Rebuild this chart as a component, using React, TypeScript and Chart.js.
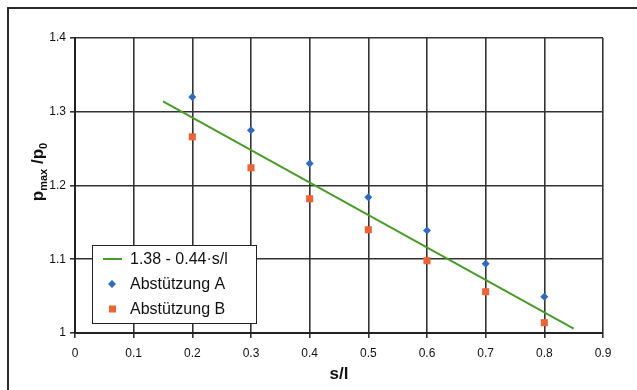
import React, { useEffect, useRef } from "react";
import { Chart, registerables } from "chart.js";

Chart.register(...registerables);

const sValues = [0.2, 0.3, 0.4, 0.5, 0.6, 0.7, 0.8];
const abstA = [1.32, 1.275, 1.23, 1.184, 1.139, 1.094, 1.049];
const abstB = [1.266, 1.224, 1.182, 1.14, 1.098, 1.056, 1.014];
const fitX = [0.15, 0.85];
const fitY = [1.314, 1.006];
const seriesLabels = ["1.38 - 0.44\u00b7s/l", "Abst\u00fctzung A", "Abst\u00fctzung B"];
const xTitle = "s/l";

const FONT = "'Liberation Sans', Arial, sans-serif";

const decorPlugin = {
  id: "decor",
  beforeDraw(chart: any) {
    const ctx = chart.ctx;
    ctx.save();
    ctx.fillStyle = "#ffffff";
    ctx.fillRect(0, 0, chart.width, chart.height);
    ctx.strokeStyle = "#2a2a2a";
    ctx.lineWidth = 2;
    ctx.strokeRect(8, 8, 800, 600);
    ctx.restore();
  },
  afterDraw(chart: any) {
    const ctx = chart.ctx;
    const area = chart.chartArea;
    ctx.save();
    // y title with subscripts
    ctx.translate(43, 172);
    ctx.rotate(-Math.PI / 2);
    ctx.fillStyle = "#111";
    ctx.textBaseline = "alphabetic";
    const parts = [
      { t: "p", f: `bold 17px ${FONT}`, dy: 0 },
      { t: "max", f: `bold 11px ${FONT}`, dy: 4 },
      { t: " /p", f: `bold 17px ${FONT}`, dy: 0 },
      { t: "0", f: `bold 11px ${FONT}`, dy: 4 },
    ];
    let total = 0;
    parts.forEach((p) => {
      ctx.font = p.f;
      total += ctx.measureText(p.t).width;
    });
    let x = -total / 2;
    parts.forEach((p) => {
      ctx.font = p.f;
      ctx.fillText(p.t, x, p.dy);
      x += ctx.measureText(p.t).width;
    });
    ctx.restore();

    // x title
    ctx.save();
    ctx.fillStyle = "#111";
    ctx.font = `bold 17px ${FONT}`;
    ctx.textAlign = "center";
    ctx.textBaseline = "middle";
    ctx.fillText(xTitle, (area.left + area.right) / 2, 374);
    ctx.restore();

    // legend
    ctx.save();
    const lx = 92, ly = 245, lw = 164, lh = 78;
    ctx.fillStyle = "#ffffff";
    ctx.fillRect(lx, ly, lw, lh);
    ctx.strokeStyle = "#222";
    ctx.lineWidth = 1;
    ctx.strokeRect(lx + 0.5, ly + 0.5, lw, lh);
    ctx.font = `16px ${FONT}`;
    ctx.fillStyle = "#111";
    ctx.textBaseline = "middle";
    const rows = [259, 284, 309];
    ctx.strokeStyle = "#4a9a2c";
    ctx.lineWidth = 2;
    ctx.beginPath();
    ctx.moveTo(103, rows[0]);
    ctx.lineTo(122, rows[0]);
    ctx.stroke();
    ctx.fillStyle = "#2f6bbf";
    ctx.beginPath();
    ctx.moveTo(112, rows[1] - 4);
    ctx.lineTo(116, rows[1]);
    ctx.lineTo(112, rows[1] + 4);
    ctx.lineTo(108, rows[1]);
    ctx.closePath();
    ctx.fill();
    ctx.fillStyle = "#ec6436";
    ctx.fillRect(109, rows[2] - 3.5, 7, 7);
    ctx.fillStyle = "#111";
    seriesLabels.forEach((lab, i) => {
      ctx.fillText(lab, 130, rows[i] + 1);
    });
    ctx.restore();
  },
};

export default function App() {
  const ref = useRef<HTMLCanvasElement | null>(null);
  useEffect(() => {
    document.body.style.margin = "0";
    const canvas = ref.current;
    if (!canvas) return;
    const chart = new Chart(canvas, {
      type: "scatter",
      data: {
        datasets: [
          {
            label: seriesLabels[1],
            data: sValues.map((s, i) => ({ x: s, y: abstA[i] })),
            pointStyle: "rectRot",
            pointRadius: 4,
            backgroundColor: "#2f6bbf",
            borderColor: "#2f6bbf",
            borderWidth: 0,
            order: 2,
          },
          {
            label: seriesLabels[2],
            data: sValues.map((s, i) => ({ x: s, y: abstB[i] })),
            pointStyle: "rect",
            pointRadius: 5,
            backgroundColor: "#ec6436",
            borderColor: "#ec6436",
            borderWidth: 0,
            order: 3,
          },
          {
            label: seriesLabels[0],
            data: fitX.map((x, i) => ({ x, y: fitY[i] })),
            showLine: true,
            pointRadius: 0,
            borderColor: "#4a9a2c",
            borderWidth: 2,
            backgroundColor: "#4a9a2c",
            order: 1,
          },
        ],
      },
      options: {
        responsive: false,
        animation: false,
        layout: { padding: { left: 0, top: 38, right: 34, bottom: 0 } },
        plugins: { legend: { display: false }, tooltip: { enabled: false } },
        scales: {
          x: {
            type: "linear",
            min: 0,
            max: 0.9,
            afterFit: (s: any) => {
              s.height = 57;
            },
            ticks: {
              stepSize: 0.1,
              color: "#111",
              font: { family: FONT, size: 12 },
              padding: 8,
              callback: (v: any) => String(Number(Number(v).toFixed(1))),
            },
            grid: { color: "#333", lineWidth: 1.6, tickLength: 5, tickColor: "#333" },
            border: { color: "#222", width: 2 },
          },
          y: {
            type: "linear",
            min: 1,
            max: 1.4,
            afterFit: (s: any) => {
              s.width = 75;
            },
            ticks: {
              stepSize: 0.1,
              color: "#111",
              font: { family: FONT, size: 12 },
              padding: 4,
              callback: (v: any) => String(Number(Number(v).toFixed(1))),
            },
            grid: { color: "#333", lineWidth: 1.6, tickLength: 5, tickColor: "#333" },
            border: { color: "#222", width: 2 },
          },
        },
      },
      plugins: [decorPlugin],
    } as any);
    return () => chart.destroy();
  }, []);
  return (
    <div style={{ width: 637, height: 390 }}>
      <canvas ref={ref} width={637} height={390} style={{ display: "block" }} />
    </div>
  );
}
